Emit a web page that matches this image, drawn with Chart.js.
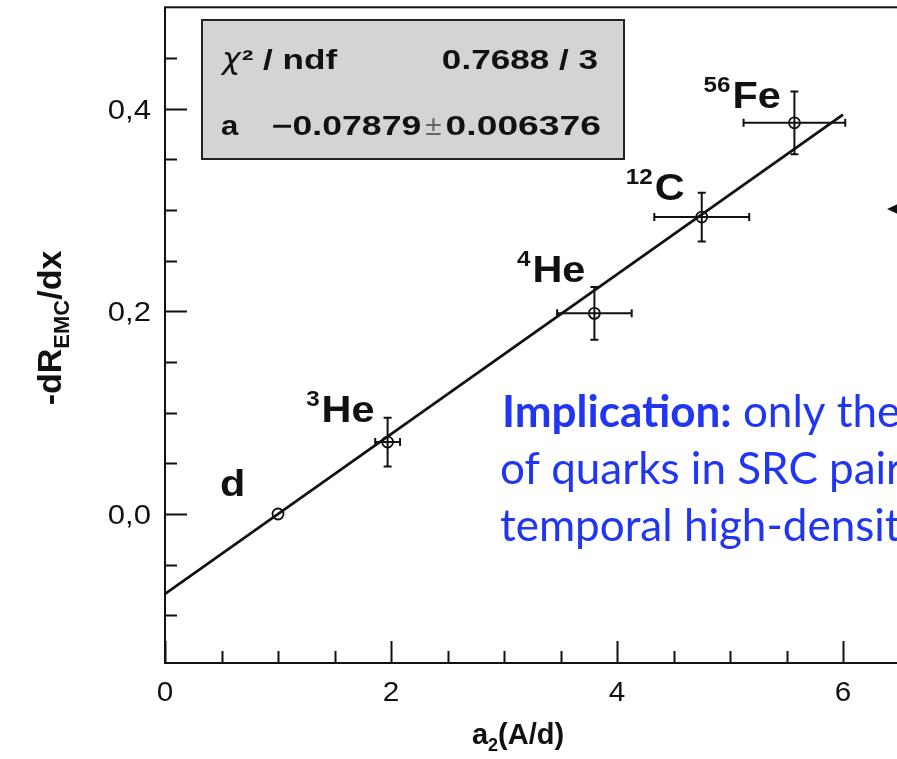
<!DOCTYPE html>
<html><head><meta charset="utf-8">
<script src="https://cdn.jsdelivr.net/npm/chart.js@4/dist/chart.umd.min.js"></script>
<style>
html,body{margin:0;padding:0;background:#fff;overflow:hidden;width:897px;height:759px}
#wrap{position:absolute;left:0;top:0;width:1000px;height:759px}
</style>
</head><body><div id="wrap"><canvas id="c" width="1000" height="759"></canvas></div>
<script>
// ---- data ----
const nucleusMass   = ['', '3', '4', '12', '56'];
const nucleusSymbol = ['d', 'He', 'He', 'C', 'Fe'];
const a2Values    = [1.00, 1.97, 3.80, 4.75, 5.57];
const a2Errors    = [0.00, 0.11, 0.33, 0.42, 0.45];
const slopeValues = [0.000, 0.071, 0.198, 0.293, 0.386];
const slopeErrors = [0.000, 0.024, 0.026, 0.024, 0.031];
const fitX = [0, 6];
const fitY = [-0.0788, 0.3940];
const xTickValues = [0,0.5,1,1.5,2,2.5,3,3.5,4,4.5,5,5.5,6,6.5,7];
const xMajorTicks = [0, 2, 4, 6];
const xTickLabels = ['0', '2', '4', '6'];
const yTickValues = [-0.1,-0.05,0,0.05,0.1,0.15,0.2,0.25,0.3,0.35,0.4,0.45];
const yMajorTicks = [0, 0.2, 0.4];
const yTickLabels = ['0,0', '0,2', '0,4'];
const statsNames  = ['\u03C7', '\u00B2 / ndf', 'a'];
const statsValues = ['0.7688 / 3', '\u22120.07879', '\u00B1', '0.006376'];
const xTitle = ['a', '2', '(A/d)'];
const yTitle = ['-dR', 'EMC', '/dx'];
const noteBold = 'Implication:';
const noteLines = [' only the', 'of quarks in SRC pairs', 'temporal high-density'];

// ---- styles ----
const INK = '#111';
const labelOffsets = [[-58,-18],[-66,-20],[-62,-31],[-47,-17],[-62,-15]];

function sText(ctx, str, x, y, font, align, sx, color) {
  ctx.save();
  ctx.font = font;
  ctx.fillStyle = color || INK;
  ctx.textBaseline = 'alphabetic';
  const w = ctx.measureText(str).width * sx;
  let left = x;
  if (align === 'right') left = x - w;
  else if (align === 'center') left = x - w / 2;
  ctx.translate(left, y);
  ctx.scale(sx, 1);
  ctx.textAlign = 'left';
  ctx.fillText(str, 0, 0);
  ctx.restore();
  return w;
}
function sWidth(ctx, str, font, sx){ctx.save();ctx.font=font;const w=ctx.measureText(str).width*sx;ctx.restore();return w;}

const framePlugin = {
  id: 'frame',
  afterDatasetsDraw(chart) {
    const {ctx, scales: {x, y}} = chart;
    ctx.save();
    ctx.strokeStyle = INK; ctx.lineWidth = 2;
    for (let i = 0; i < a2Values.length; i++) {
      const px = x.getPixelForValue(a2Values[i]);
      const py = y.getPixelForValue(slopeValues[i]);
      if (a2Errors[i] > 0) {
        const l = x.getPixelForValue(a2Values[i] - a2Errors[i]);
        const r = x.getPixelForValue(a2Values[i] + a2Errors[i]);
        ctx.beginPath(); ctx.moveTo(l, py); ctx.lineTo(r, py);
        ctx.moveTo(l, py - 4); ctx.lineTo(l, py + 4);
        ctx.moveTo(r, py - 4); ctx.lineTo(r, py + 4); ctx.stroke();
      }
      if (slopeErrors[i] > 0) {
        const t = y.getPixelForValue(slopeValues[i] + slopeErrors[i]);
        const b = y.getPixelForValue(slopeValues[i] - slopeErrors[i]);
        ctx.beginPath(); ctx.moveTo(px, t); ctx.lineTo(px, b);
        ctx.moveTo(px - 4, t); ctx.lineTo(px + 4, t);
        ctx.moveTo(px - 4, b); ctx.lineTo(px + 4, b); ctx.stroke();
      }
    }
    ctx.restore();
  },
  afterDraw(chart) {
    const {ctx, chartArea: a, scales: {x, y}} = chart;
    ctx.save();
    // frame
    ctx.strokeStyle = INK; ctx.lineWidth = 2;
    ctx.strokeRect(a.left, a.top, a.right - a.left, a.bottom - a.top);
    // ticks
    ctx.beginPath();
    y.ticks.forEach(t => {
      const py = Math.round(y.getPixelForValue(t.value)) + 0.5;
      const major = yMajorTicks.some(m => Math.abs(m - t.value) < 1e-6);
      ctx.moveTo(a.left, py); ctx.lineTo(a.left + (major ? 22 : 12), py);
    });
    x.ticks.forEach(t => {
      const px = Math.round(x.getPixelForValue(t.value)) + 0.5;
      const major = xMajorTicks.some(m => Math.abs(m - t.value) < 1e-6);
      ctx.moveTo(px, a.bottom); ctx.lineTo(px, a.bottom - (major ? 22 : 12));
    });
    ctx.stroke();
    // tick labels
    const tf = '27px "Liberation Sans", Arial, sans-serif';
    yMajorTicks.forEach((v, i) => {
      sText(ctx, yTickLabels[i], 151, y.getPixelForValue(v) + 10, tf, 'right', 1.15);
    });
    xMajorTicks.forEach((v, i) => {
      sText(ctx, xTickLabels[i], x.getPixelForValue(v), 701, tf, 'center', 1.1);
    });
    // x title
    const bf = 'bold 29px "Liberation Sans", Arial, sans-serif';
    const sf = 'bold 18px "Liberation Sans", Arial, sans-serif';
    const w1 = sWidth(ctx, xTitle[0], bf, 1), w2 = sWidth(ctx, xTitle[1], sf, 1), w3 = sWidth(ctx, xTitle[2], bf, 1);
    let cx = 518 - (w1 + w2 + w3) / 2;
    cx += sText(ctx, xTitle[0], cx, 744, bf, 'left', 1);
    cx += sText(ctx, xTitle[1], cx, 751, sf, 'left', 1);
    sText(ctx, xTitle[2], cx, 744, bf, 'left', 1);
    // y title (rotated)
    ctx.save();
    ctx.translate(61, 328); ctx.rotate(-Math.PI / 2);
    const yf = 'bold 34px "Liberation Sans", Arial, sans-serif';
    const ysf = 'bold 22px "Liberation Sans", Arial, sans-serif';
    const u1 = sWidth(ctx, yTitle[0], yf, 1), u2 = sWidth(ctx, yTitle[1], ysf, 1), u3 = sWidth(ctx, yTitle[2], yf, 1);
    let cy = -(u1 + u2 + u3) / 2;
    cy += sText(ctx, yTitle[0], cy, 0, yf, 'left', 1);
    cy += sText(ctx, yTitle[1], cy, 8, ysf, 'left', 1);
    sText(ctx, yTitle[2], cy, 0, yf, 'left', 1);
    ctx.restore();
    // nucleus labels
    const nf = 'bold 36px "Liberation Sans", Arial, sans-serif';
    const nsf = 'bold 22px "Liberation Sans", Arial, sans-serif';
    for (let i = 0; i < a2Values.length; i++) {
      const px = x.getPixelForValue(a2Values[i]) + labelOffsets[i][0];
      const py = y.getPixelForValue(slopeValues[i]) + labelOffsets[i][1];
      sText(ctx, nucleusSymbol[i], px, py, nf, 'left', 1.15);
      if (nucleusMass[i]) sText(ctx, nucleusMass[i], px - 2, py - 16, nsf, 'right', 1.1);
    }
    // stats box
    ctx.fillStyle = '#d4d4d4';
    ctx.fillRect(202, 20, 422, 139);
    ctx.lineWidth = 2; ctx.strokeStyle = '#222';
    ctx.strokeRect(202, 20, 422, 139);
    const stf = 'bold 27px "Liberation Sans", Arial, sans-serif';
    let sx0 = 222;
    sx0 += sText(ctx, statsNames[0], sx0, 69, 'italic 30px "DejaVu Sans", sans-serif', 'left', 1.05);
    sText(ctx, statsNames[1], sx0 + 1, 69, stf, 'left', 1.3);
    sText(ctx, statsValues[0], 598, 69, stf, 'right', 1.3);
    sText(ctx, statsNames[2], 221, 135, stf, 'left', 1.15);
    let rx = 601;
    rx -= sText(ctx, statsValues[3], rx, 135, stf, 'right', 1.38) + 4;
    rx -= sText(ctx, statsValues[2], rx, 135, '27px "Liberation Sans", Arial, sans-serif', 'right', 1.1, '#666') + 4;
    sText(ctx, statsValues[1], rx, 135, stf, 'right', 1.32);
    // slide note (blue)
    const blue = '#2136f2';
    const nb = 'bold 44px Lato, "Open Sans", sans-serif';
    const nr = '44px Lato, "Open Sans", sans-serif';
    const bw = sText(ctx, noteBold, 502, 427, nb, 'left', 1, blue);
    sText(ctx, noteLines[0], 502 + bw, 427, nr, 'left', 1, blue);
    sText(ctx, noteLines[1], 500, 484, nr, 'left', 1, blue);
    sText(ctx, noteLines[2], 500, 541, nr, 'left', 1, blue);
    // arrow at slide edge
    ctx.fillStyle = INK;
    ctx.beginPath(); ctx.moveTo(887, 209); ctx.lineTo(902, 202); ctx.lineTo(902, 216); ctx.closePath(); ctx.fill();
    ctx.restore();
  }
};

const ctx = document.getElementById('c').getContext('2d');
new Chart(ctx, {
  type: 'scatter',
  data: {
    datasets: [
      { label: 'fit', data: fitX.map((v, i) => ({x: v, y: fitY[i]})), showLine: true,
        borderColor: INK, borderWidth: 2.8, pointRadius: 0, fill: false, order: 2 },
      { label: 'data', data: a2Values.map((v, i) => ({x: v, y: slopeValues[i]})),
        pointStyle: 'circle', pointRadius: 5.5, borderColor: INK, borderWidth: 1.8,
        backgroundColor: 'rgba(0,0,0,0)', order: 1 }
    ]
  },
  options: {
    responsive: false, animation: false, devicePixelRatio: 1,
    layout: { padding: { left: 0, top: 6, right: 44, bottom: 0 } },
    plugins: { legend: { display: false }, tooltip: { enabled: false } },
    scales: {
      x: { type: 'linear', min: 0, max: 7, grid: { display: false }, border: { display: false },
           ticks: { display: false },
           afterBuildTicks: s => { s.ticks = xTickValues.map(v => ({value: v})); },
           afterFit: s => { s.height = 96; } },
      y: { type: 'linear', min: -0.147, max: 0.5, grid: { display: false }, border: { display: false },
           ticks: { display: false },
           afterBuildTicks: s => { s.ticks = yTickValues.map(v => ({value: v})); },
           afterFit: s => { s.width = 165; } }
    }
  },
  plugins: [framePlugin]
});
</script>
</body></html>
